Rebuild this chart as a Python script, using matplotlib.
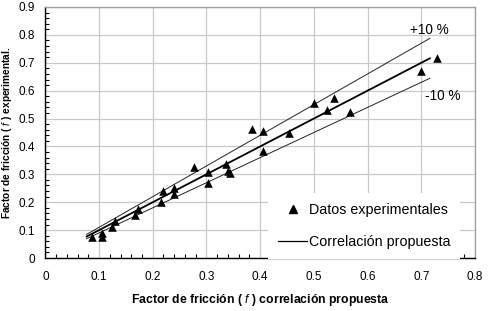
import matplotlib
matplotlib.use("Agg")
import matplotlib.pyplot as plt
from matplotlib.ticker import MultipleLocator
from matplotlib.lines import Line2D
import numpy as np

plt.rcParams['font.family'] = ['Liberation Sans', 'DejaVu Sans']
plt.rcParams['mathtext.fontset'] = 'custom'
plt.rcParams['mathtext.it'] = 'Liberation Sans:italic'
plt.rcParams['mathtext.rm'] = 'Liberation Sans'

# Data
f_corr = [0.086, 0.105, 0.105, 0.125, 0.130, 0.167, 0.172, 0.215, 0.220, 0.240, 0.240,
          0.276, 0.303, 0.303, 0.336, 0.341, 0.343, 0.384, 0.405, 0.405, 0.453,
          0.501, 0.525, 0.538, 0.567, 0.700, 0.729]
f_exp = [0.074, 0.074, 0.090, 0.110, 0.131, 0.153, 0.175, 0.200, 0.240, 0.228, 0.250,
         0.325, 0.269, 0.308, 0.337, 0.312, 0.305, 0.463, 0.454, 0.382, 0.449,
         0.556, 0.532, 0.574, 0.523, 0.669, 0.718]
line_x = [0.077, 0.716]
factors = [1.0, 1.1, 0.9]
xticks = [0, 0.1, 0.2, 0.3, 0.4, 0.5, 0.6, 0.7, 0.8]
xticklabels = ['0', '0.1', '0.2', '0.3', '0.4', '0.5', '0.6', '0.7', '0.8']
yticks = [0, 0.1, 0.2, 0.3, 0.4, 0.5, 0.6, 0.7, 0.8, 0.9]
yticklabels = ['0', '0.1', '0.2', '0.3', '0.4', '0.5', '0.6', '0.7', '0.8', '0.9']

fig = plt.figure(figsize=(4.91, 3.11), dpi=100)
ax = fig.add_axes([0.0923, 0.1704, 0.8751, 0.8071])

lx = np.array(line_x)
ax.plot(lx, lx * factors[0], color='black', lw=1.3, zorder=3)
ax.plot(lx, lx * factors[1], color='#222222', lw=0.7, zorder=3)
ax.plot(lx, lx * factors[2], color='#222222', lw=0.7, zorder=3)
ax.scatter(f_corr, f_exp, marker='^', s=38, color='black', zorder=4, linewidths=0)

ax.set_xlim(0, 0.8)
ax.set_ylim(0, 0.9)
ax.set_xticks(xticks)
ax.set_xticklabels(xticklabels)
ax.set_yticks(yticks)
ax.set_yticklabels(yticklabels)
ax.xaxis.set_minor_locator(MultipleLocator(0.02))
ax.yaxis.set_minor_locator(MultipleLocator(0.02))
ax.tick_params(which='both', direction='in', length=3, width=0.8, labelsize=8.5, color='black')
ax.tick_params(which='major', length=0)
ax.tick_params(axis='x', which='major', pad=9.4)
ax.tick_params(axis='y', which='major', pad=7.2)
ax.grid(True, which='major', color='#c8c8c8', lw=0.9)
ax.set_axisbelow(True)
for s in ['left', 'bottom']:
    ax.spines[s].set_color('black')
    ax.spines[s].set_linewidth(1.0)
for s in ['top', 'right']:
    ax.spines[s].set_color('#a0a0a0')
    ax.spines[s].set_linewidth(1.0)

ax.set_xlabel(r'Factor de fricción ( $\it{f}$ ) correlación propuesta', fontsize=8.8, fontweight='bold')
ax.set_ylabel(r'Factor de fricción ( $\it{f}$ ) experimental.', fontsize=7.3, fontweight='bold')
ax.xaxis.set_label_coords(0.5, -0.135)
ax.yaxis.set_label_coords(-0.073, 0.5)

ax.text(0.679, 0.816, '+10 %', fontsize=9.8, va='center', ha='left')
ax.text(0.707, 0.580, '-10 %', fontsize=9.8, va='center', ha='left')

handles = [Line2D([], [], marker='^', color='black', linestyle='none', markersize=6),
           Line2D([], [], color='black', lw=0.9)]
leg = ax.legend(handles, ['Datos experimentales', 'Correlación propuesta'],
                loc='center', bbox_to_anchor=(0.594, 0.115), bbox_transform=ax.transData,
                fontsize=10.3, frameon=True, framealpha=1,
                edgecolor='white', fancybox=False,
                handlelength=2.0, handletextpad=0.15, labelspacing=1.2, borderpad=0.7)
leg.get_frame().set_linewidth(0)

fig.savefig('out.png', dpi=100)
